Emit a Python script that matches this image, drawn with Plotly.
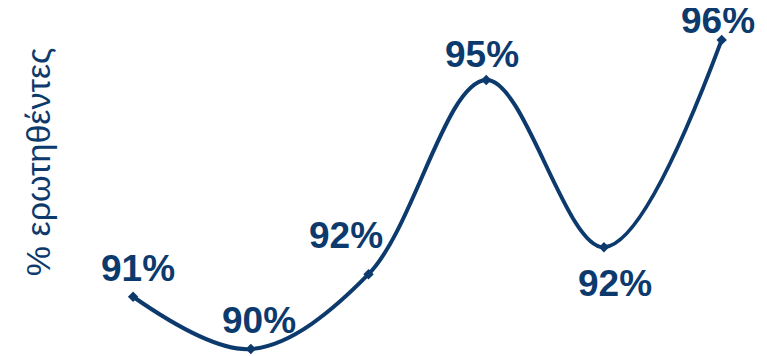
import plotly.graph_objects as go

categories = ["1", "2", "3", "4", "5", "6"]
values = [91.25, 90.3, 91.66, 95.19, 92.15, 95.92]
labels = ["91%", "90%", "92%", "95%", "92%", "96%"]
label_shift = [(5, 28), (8, 28), (-23, 39), (-4, 26), (11, -36), (-4, 19)]

navy = "#0C3A6D"
x_idx = list(range(len(categories)))

fig = go.Figure()
fig.add_trace(go.Scatter(
    x=x_idx, y=values, mode="lines+markers",
    line=dict(color=navy, width=4, shape="spline", smoothing=1.0),
    marker=dict(symbol="diamond", size=8, color=navy),
    cliponaxis=False, hoverinfo="skip"))

for xi, v, lab, (dx, dy) in zip(x_idx, values, labels, label_shift):
    fig.add_annotation(x=xi, y=v, text=f"<b>{lab}</b>", showarrow=False,
                       xshift=dx, yshift=dy,
                       font=dict(family="Liberation Sans, Arial", size=37, color=navy))

fig.add_annotation(xref="paper", yref="paper", x=-0.0715, y=0.567,
                   text="% ερωτηθέντες", textangle=-90, showarrow=False,
                   xanchor="center", yanchor="middle",
                   font=dict(family="Liberation Sans, Arial", size=34, color=navy))

fig.update_layout(
    width=767, height=356,
    margin=dict(l=78, r=18, t=0, b=0),
    paper_bgcolor="white", plot_bgcolor="white",
    showlegend=False,
    xaxis=dict(range=[-0.4, 5.3], visible=False),
    yaxis=dict(range=[90.027, 96.5], visible=False),
)

fig.write_html("out.html")
